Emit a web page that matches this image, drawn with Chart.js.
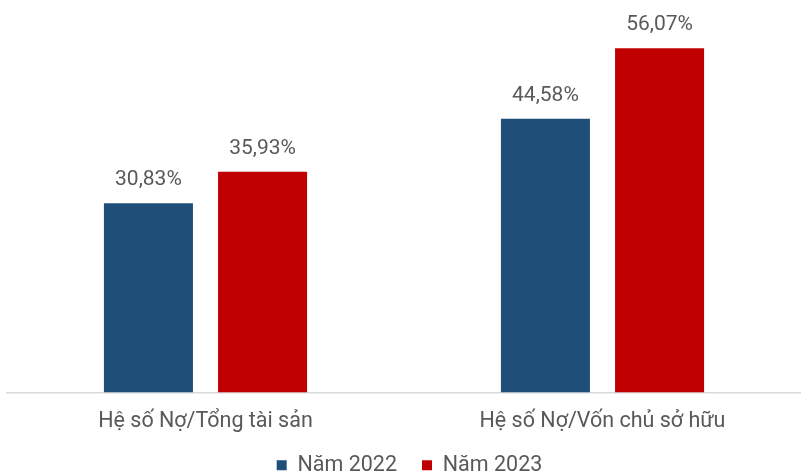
<!DOCTYPE html>
<html lang="vi">
<head>
<meta charset="utf-8">
<script src="https://cdn.jsdelivr.net/npm/chart.js@4.4.1/dist/chart.umd.min.js"></script>
<style>
  html, body { margin: 0; padding: 0; background: #ffffff; }
  #wrap { width: 801px; height: 474px; position: relative; }
</style>
</head>
<body>
<div id="wrap"><canvas id="chart"></canvas></div>
<script>
// Debt ratios by year
const categories = ['Hệ số Nợ/Tổng tài sản', 'Hệ số Nợ/Vốn chủ sở hữu'];
const seriesNames = ['Năm 2022', 'Năm 2023'];
const values2022 = [30.83, 44.58];
const values2023 = [35.93, 56.07];

const TEXT = '#595959';
const FONT = 'Roboto, "Noto Sans", sans-serif';

// Writes each bar's value above it, Vietnamese decimal comma
const valueLabels = {
  id: 'valueLabels',
  afterDatasetsDraw(chart) {
    const ctx = chart.ctx;
    ctx.save();
    ctx.font = '400 21px ' + FONT;
    ctx.fillStyle = TEXT;
    ctx.textAlign = 'center';
    ctx.textBaseline = 'middle';
    chart.data.datasets.forEach((ds, i) => {
      chart.getDatasetMeta(i).data.forEach((bar, j) => {
        const txt = ds.data[j].toFixed(2).replace('.', ',') + '%';
        ctx.fillText(txt, bar.x, bar.y - 23);
      });
    });
    ctx.restore();
  }
};

// Pulls the legend a little closer to the axis labels
const legendNudge = {
  id: 'legendNudge',
  afterLayout(chart) {
    const lg = chart.legend;
    if (!lg) return;
    lg.top -= 9; lg.bottom -= 9;
    lg.left += 4; lg.right += 4;
  }
};

new Chart(document.getElementById('chart'), {
  type: 'bar',
  data: {
    labels: categories,
    datasets: [
      { label: seriesNames[0], data: values2022, backgroundColor: '#1F4E79' },
      { label: seriesNames[1], data: values2023, backgroundColor: '#C00000' }
    ]
  },
  options: {
    responsive: true,
    maintainAspectRatio: false,
    animation: false,
    devicePixelRatio: 1,
    layout: { padding: { left: 7, right: -3, top: 24, bottom: -21 } },
    datasets: { bar: { categoryPercentage: 0.575, barPercentage: 0.78 } },
    scales: {
      x: {
        grid: { display: false },
        border: { display: true, color: '#d9d9d9', width: 1.5 },
        ticks: { color: TEXT, font: { family: FONT, size: 21.5 }, padding: 8 },
        afterFit(scale) { scale.height = 46; }
      },
      y: {
        display: false,
        min: 0,
        max: 60
      }
    },
    plugins: {
      legend: {
        position: 'bottom',
        labels: {
          color: TEXT,
          font: { family: FONT, size: 21.5 },
          boxWidth: 10,
          boxHeight: 10,
          padding: 25
        }
      },
      tooltip: { enabled: false }
    }
  },
  plugins: [valueLabels, legendNudge]
});
</script>
</body>
</html>
